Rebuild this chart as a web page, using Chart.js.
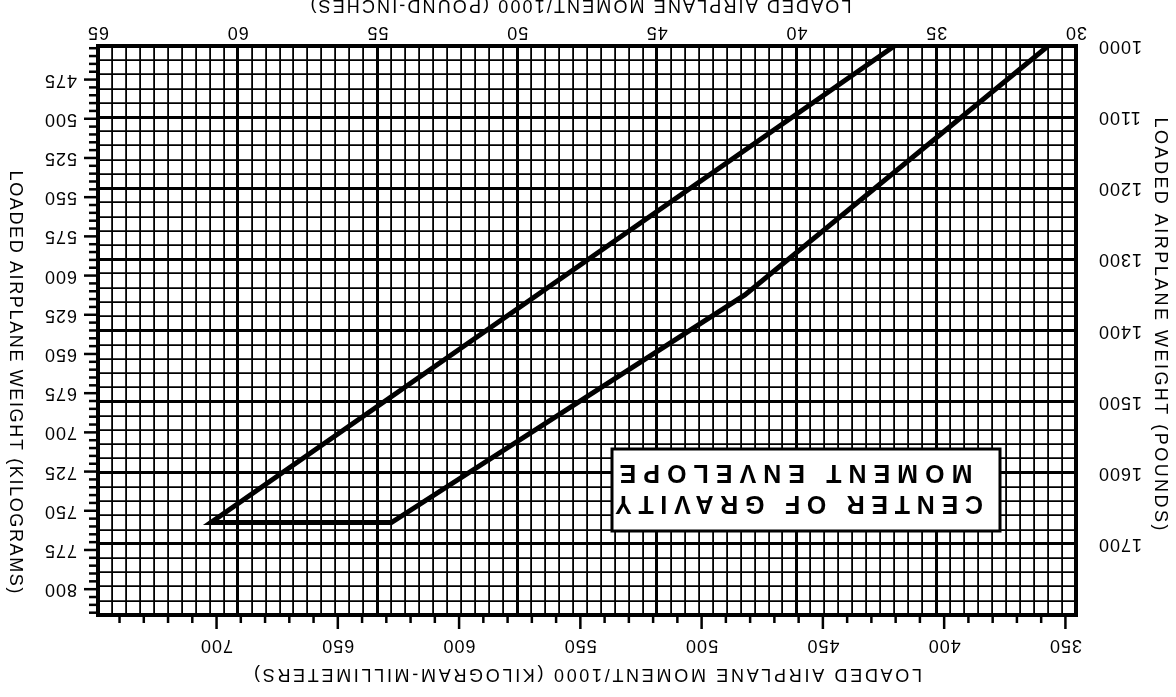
<!DOCTYPE html>
<html><head><meta charset="utf-8">
<script src="https://cdn.jsdelivr.net/npm/chart.js@4/dist/chart.umd.min.js"></script>
<style>
html,body{margin:0;padding:0;background:#fff;overflow:hidden}
#wrap{width:1176px;height:697px;transform:rotate(180deg);transform-origin:50% 50%}
canvas{display:block}
</style></head><body>
<div id="wrap"><canvas id="c" width="1176" height="697"></canvas></div>
<script>
// Envelope vertices (moment lb-in/1000, weight lb)
const momentLbIn = [31.0, 41.85, 54.5, 60.96, 36.5];
const weightLb   = [1000, 1350, 1670, 1670, 1000];
// Tick labels
const lbInTickLabels = [30, 35, 40, 45, 50, 55, 60, 65];
const kgMmTickLabels = [350, 400, 450, 500, 550, 600, 650, 700];
const lbTickLabels   = [1000, 1100, 1200, 1300, 1400, 1500, 1600, 1700];
const kgTickLabels   = [475, 500, 525, 550, 575, 600, 625, 650, 675, 700, 725, 750, 775, 800];
// Axis ranges
const lbInRange = [30, 65];
const lbRange = [1000, 1800];
const LBIN_TO_KGMM = 0.45359237 * 25.4;
const LB_TO_KG = 0.45359237;
// Texts
const titleKgMm = 'LOADED AIRPLANE MOMENT/1000 (KILOGRAM-MILLIMETERS)';
const titleLbIn = 'LOADED AIRPLANE MOMENT/1000 (POUND-INCHES)';
const titleLb = 'LOADED AIRPLANE WEIGHT (POUNDS)';
const titleKg = 'LOADED AIRPLANE WEIGHT (KILOGRAMS)';
const boxLines = ['CENTER OF GRAVITY', 'MOMENT ENVELOPE'];

const AREA = {left: 100, right: 1078, top: 82, bottom: 651};
const TICKFONT = {family: 'Liberation Sans', size: 18};

function spacedText(ctx, text, cx, cy, width, font, rot) {
  ctx.save();
  ctx.font = font;
  ctx.letterSpacing = '0px';
  const w0 = ctx.measureText(text).width;
  const ls = (width - w0) / (text.length - 1);
  ctx.letterSpacing = ls + 'px';
  ctx.translate(cx, cy);
  if (rot) ctx.rotate(rot);
  ctx.textAlign = 'left';
  ctx.textBaseline = 'middle';
  ctx.fillStyle = '#000';
  ctx.fillText(text, -width / 2, 0);
  ctx.restore();
}

const decor = {
  id: 'decor',
  beforeDraw(chart) { chart.ctx.letterSpacing = '1px'; },
  afterDraw(chart) {
    const ctx = chart.ctx;
    ctx.letterSpacing = '0px';
    const a = chart.chartArea;
    const x2 = chart.scales.x2, y2 = chart.scales.y2;
    ctx.save();
    ctx.strokeStyle = '#000';
    ctx.lineWidth = 2.5;
    for (let v = 350; v <= 740; v += 10) {
      const px = x2.getPixelForValue(v);
      const len = v % 50 === 0 ? 14 : 8;
      ctx.beginPath(); ctx.moveTo(px, a.top); ctx.lineTo(px, a.top - len); ctx.stroke();
    }
    for (let v = 455; v <= 815; v += 5) {
      const py = y2.getPixelForValue(v);
      const len = v % 25 === 0 ? 14 : 9;
      ctx.beginPath(); ctx.moveTo(a.right, py); ctx.lineTo(a.right + len, py); ctx.stroke();
    }
    ctx.lineWidth = 4;
    ctx.strokeRect(a.left, a.top, a.right - a.left, a.bottom - a.top);
    ctx.fillStyle = '#fff';
    ctx.fillRect(176, 166, 388, 82);
    ctx.lineWidth = 3;
    ctx.strokeRect(176, 166, 388, 82);
    ctx.restore();
    spacedText(ctx, boxLines[0], 377, 194, 368, 'bold 25px "Liberation Sans"');
    spacedText(ctx, boxLines[1], 380, 225, 353, 'bold 25px "Liberation Sans"');
    spacedText(ctx, titleKgMm, 588, 23, 668, '18px "Liberation Sans"');
    spacedText(ctx, titleLbIn, 595, 692, 541, '18px "Liberation Sans"');
    spacedText(ctx, titleLb, 16, 373, 413, '18px "Liberation Sans"', -Math.PI / 2);
    spacedText(ctx, titleKg, 1161, 315, 423, '18px "Liberation Sans"', -Math.PI / 2);
  }
};

const gridW = (major) => (c) => (c.tick && Math.abs(c.tick.value % major) < 1e-6 ? 3 : 1.8);

new Chart(document.getElementById('c'), {
  type: 'scatter',
  data: {
    datasets: [{
      data: momentLbIn.map((x, i) => ({x, y: weightLb[i]})),
      showLine: true,
      borderColor: '#000',
      borderWidth: 5,
      borderJoinStyle: 'miter',
      pointRadius: 0,
      fill: false,
      tension: 0
    }]
  },
  options: {
    responsive: false,
    devicePixelRatio: 1,
    animation: false,
    layout: {padding: 0},
    plugins: {legend: {display: false}, tooltip: {enabled: false}},
    scales: {
      x: {
        type: 'linear', position: 'bottom', min: lbInRange[0], max: lbInRange[1],
        border: {display: false},
        grid: {color: '#000', lineWidth: gridW(5), drawTicks: false},
        ticks: {stepSize: 0.5, autoSkip: false, maxRotation: 0, padding: 3, color: '#000', font: TICKFONT,
          callback: (v) => lbInTickLabels.includes(v) ? String(v) : ''},
        afterFit: (s) => { s.height = 697 - AREA.bottom; }
      },
      x2: {
        type: 'linear', position: 'top', min: lbInRange[0] * LBIN_TO_KGMM, max: lbInRange[1] * LBIN_TO_KGMM,
        border: {display: false},
        grid: {drawOnChartArea: false, drawTicks: false},
        ticks: {stepSize: 50, includeBounds: false, autoSkip: false, maxRotation: 0, padding: 19, color: '#000', font: TICKFONT,
          callback: (v) => kgMmTickLabels.includes(v) ? String(v) : ''},
        afterFit: (s) => { s.height = AREA.top; }
      },
      y: {
        type: 'linear', position: 'left', min: lbRange[0], max: lbRange[1],
        border: {display: false},
        grid: {color: '#000', lineWidth: gridW(100), drawTicks: false},
        ticks: {stepSize: 20, autoSkip: false, padding: 22, color: '#000', font: TICKFONT,
          callback: (v) => lbTickLabels.includes(v) ? String(v) : ''},
        afterFit: (s) => { s.width = AREA.left; }
      },
      y2: {
        type: 'linear', position: 'right', min: lbRange[0] * LB_TO_KG, max: lbRange[1] * LB_TO_KG,
        border: {display: false},
        grid: {drawOnChartArea: false, drawTicks: false},
        ticks: {stepSize: 25, includeBounds: false, autoSkip: false, padding: 21, color: '#000', font: TICKFONT,
          callback: (v) => kgTickLabels.includes(v) ? String(v) : ''},
        afterFit: (s) => { s.width = 1176 - AREA.right; }
      }
    }
  },
  plugins: [decor]
});
</script>
</body></html>
